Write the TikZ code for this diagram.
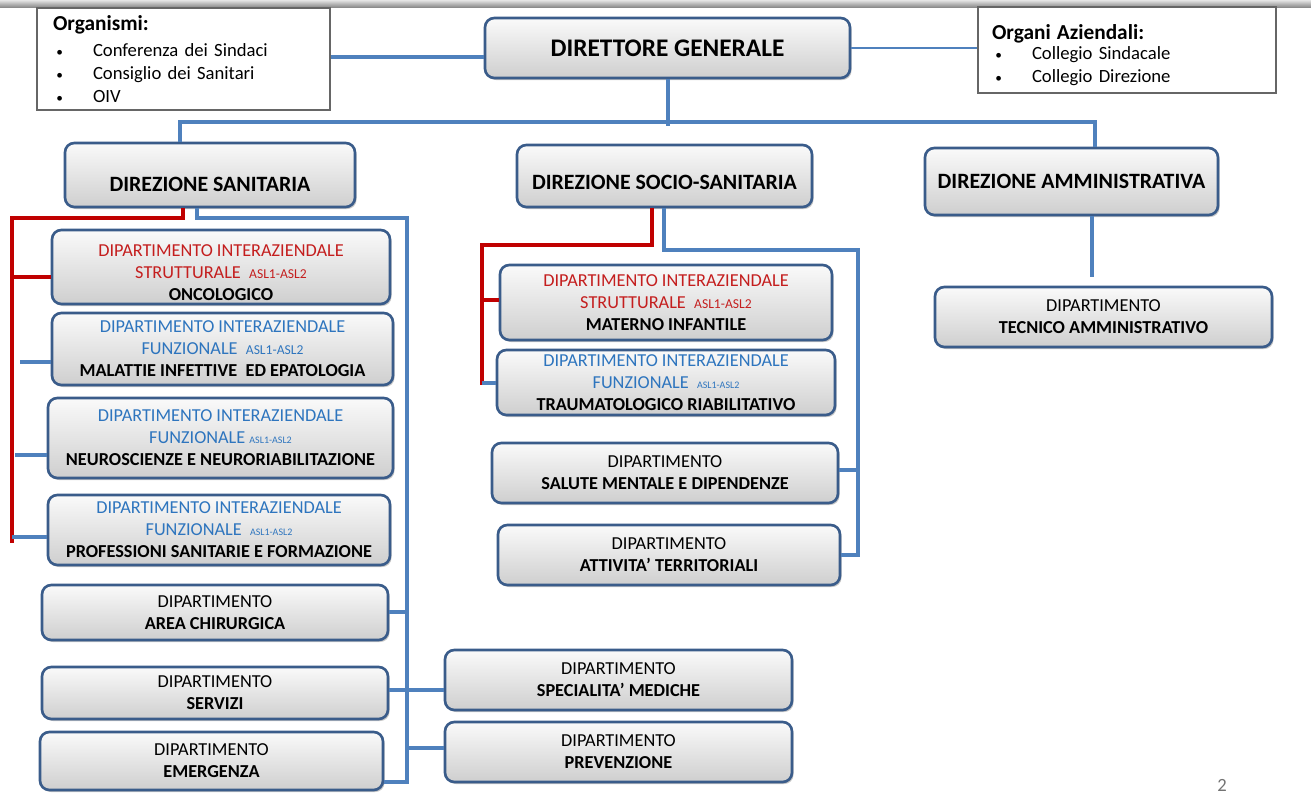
\documentclass[tikz,border=0pt]{standalone}
\usepackage{fontspec}
\setmainfont{Carlito}
\usepackage{tikz}
\usetikzlibrary{shadows}

\definecolor{linkblue}{RGB}{79,129,189}
\definecolor{linkred}{RGB}{192,0,0}
\definecolor{boxedge}{RGB}{58,92,138}
\definecolor{txtred}{RGB}{196,30,30}
\definecolor{txtblue}{RGB}{46,117,190}

\newcommand\redl[1]{\textcolor{txtred}{#1}}
\newcommand\bluel[1]{\textcolor{txtblue}{#1}}
\newcommand\aslbig{{\fontsize{10.2}{10}\selectfont ASL1-ASL2}}
\newcommand\aslsmall{{\fontsize{7.5}{8}\selectfont ASL1-ASL2}}
\newcommand\itm[1]{\hspace*{2.5pt}\makebox[27.5pt][l]{\fontsize{10}{10}\selectfont\textbullet}#1}
\newcommand\hdr[1]{{\fontsize{16}{16}\selectfont\bfseries #1}}

\begin{document}
\begin{tikzpicture}[x=0.75pt, y=-0.75pt,
  wh/.style 2 args={minimum width=#1*0.75pt, minimum height=#2*0.75pt},
  deptbox/.style={draw=boxedge, line width=2pt, rounded corners=7pt,
    top color=black!2, bottom color=black!19,
    drop shadow={shadow xshift=1.2pt, shadow yshift=-1.5pt, opacity=0.45},
    align=center, inner sep=0pt, font=\fontsize{13.7}{16.5}\selectfont},
  dirbox/.style={deptbox, font=\fontsize{16.4}{18}\selectfont\bfseries},
  infobox/.style={draw=black!60, line width=0.8pt, fill=white, align=left,
    font=\fontsize{14}{17.25}\selectfont},
  bline/.style={draw=linkblue, line width=3pt},
  rline/.style={draw=linkred, line width=3.4pt},
]
  \useasboundingbox (0,0) rectangle (1311,796);

  % grey rule on top
  \shade[top color=black!10, bottom color=black!45] (0,0) rectangle (1311,7);

  %% top level
  \node[infobox, wh={293}{102}, inner xsep=12pt, text width=195.75pt] (org) at (183.5,59)
    {\hdr{Organismi:}\\[2.25pt]\itm{Conferenza dei Sindaci}\\\itm{Consiglio dei Sanitari}\\\itm{OIV}};
  \node[infobox, wh={298}{86}, inner xsep=10.5pt, text width=202.5pt] (organi) at (1127,50)
    {\rule{0pt}{19pt}\hdr{Organi Aziendali:}\\[-2.25pt]\itm{Collegio Sindacale}\\\itm{Collegio Direzione}};
  \node[dirbox, wh={365}{60}, font=\fontsize{19}{20}\selectfont\bfseries] (dg) at (667.5,48) {DIRETTORE GENERALE};

  \node[dirbox, wh={290}{64}] (ds) at (210,175) {\raisebox{-7pt}[\height][0pt]{DIREZIONE SANITARIA}};
  \node[dirbox, wh={295}{62}] (dss) at (664.5,176) {\raisebox{-4.5pt}[\height][0pt]{DIREZIONE SOCIO-SANITARIA}};
  \node[dirbox, wh={293}{67}] (da) at (1071.5,181.5) {DIREZIONE AMMINISTRATIVA};

  %% left column
  \node[deptbox, wh={338}{74}] (onco) at (221,267)
    {\rule{0pt}{18pt}\redl{DIPARTIMENTO INTERAZIENDALE}\\\redl{STRUTTURALE\ \ \aslbig}\\\textbf{ONCOLOGICO}};
  \node[deptbox, wh={341}{72}] (malinf) at (222.5,349)
    {\bluel{DIPARTIMENTO INTERAZIENDALE}\\\bluel{FUNZIONALE\ \ \aslbig}\\\textbf{MALATTIE INFETTIVE\ \ ED EPATOLOGIA}};
  \node[deptbox, wh={345}{80}] (neuro) at (220.5,438)
    {\bluel{DIPARTIMENTO INTERAZIENDALE}\\\bluel{FUNZIONALE \aslsmall}\\\textbf{NEUROSCIENZE E NEURORIABILITAZIONE}};
  \node[deptbox, wh={342}{70}] (prof) at (219,530)
    {\bluel{DIPARTIMENTO INTERAZIENDALE}\\\bluel{FUNZIONALE\ \ \aslsmall}\\\textbf{PROFESSIONI SANITARIE E FORMAZIONE}};
  \node[deptbox, wh={346}{55}] (chir) at (215,612.5) {DIPARTIMENTO\\\textbf{AREA CHIRURGICA}};
  \node[deptbox, wh={346}{52}] (serv) at (215,693) {DIPARTIMENTO\\\textbf{SERVIZI}};
  \node[deptbox, wh={343}{58}] (emerg) at (211.5,761) {DIPARTIMENTO\\\textbf{EMERGENZA}};

  %% middle column
  \node[deptbox, wh={332}{75}] (mater) at (666,302.5)
    {\redl{DIPARTIMENTO INTERAZIENDALE}\\\redl{STRUTTURALE\ \ \aslbig}\\\textbf{MATERNO INFANTILE}};
  \node[deptbox, wh={338}{65}] (trauma) at (666,382.5)
    {\bluel{DIPARTIMENTO INTERAZIENDALE}\\\bluel{FUNZIONALE\ \ \aslsmall}\\\textbf{TRAUMATOLOGICO RIABILITATIVO}};
  \node[deptbox, wh={346}{60}] (salmen) at (665,473) {DIPARTIMENTO\\\textbf{SALUTE MENTALE E DIPENDENZE}};
  \node[deptbox, wh={342}{60}] (attiv) at (669,555) {DIPARTIMENTO\\\textbf{ATTIVITA’ TERRITORIALI}};
  \node[deptbox, wh={347}{60}] (specmed) at (618.5,680) {DIPARTIMENTO\\\textbf{SPECIALITA’ MEDICHE}};
  \node[deptbox, wh={347}{60}] (prev) at (618.5,752) {DIPARTIMENTO\\\textbf{PREVENZIONE}};

  %% right column
  \node[deptbox, wh={337}{60}] (dta) at (1103.5,317) {DIPARTIMENTO\\\textbf{TECNICO AMMINISTRATIVO}};

  \node[text=black!55, font=\fontsize{14}{14}\selectfont] (pnum) at (1222,785) {2};

  %% bend points
  \coordinate (busL) at (180,122);
  \coordinate (busR) at (1095,122);
  \coordinate (busC) at (667.5,126);
  \coordinate (daDrop) at (1092,277);
  \coordinate (rl1) at (183,218);  \coordinate (rl2) at (12,218);  \coordinate (rl3) at (12,543);
  \coordinate (rb1) at (12,277);
  \coordinate (bs2) at (20,362);   \coordinate (bs3) at (15,455);  \coordinate (bs4) at (12,537);
  \coordinate (bl1) at (197,218);  \coordinate (bl2) at (407,218); \coordinate (bl3) at (407,782);
  \coordinate (bb5) at (407,612);  \coordinate (bb6) at (407,690); \coordinate (bb7) at (407,748);
  \coordinate (mr1) at (652,245);  \coordinate (mr2) at (482,245); \coordinate (mr3) at (482,385);
  \coordinate (mrb) at (482,300);  \coordinate (mbs) at (482,383);
  \coordinate (mb1) at (664,250);  \coordinate (mb2) at (858,250); \coordinate (mb3) at (858,555);
  \coordinate (mbb) at (858,470);

  %% connectors
  \draw[bline] (org.east |- 0,57) -- (dg.west |- 0,57); %% org-DG
  \draw[draw=linkblue, line width=1.1pt] (dg.east) -- (dg.east -| organi.west); %% DG-organi
  \draw[bline] (dg.south) -- (busC);
  \draw[bline] (busL |- ds.north) -- (busL) -- (busR) -- (busR |- da.north); %% bus
  \draw[bline] (daDrop |- da.south) -- (daDrop); %% DA->DTA

  \draw[rline] (rl1 |- ds.south) -- (rl1) -- (rl2) -- (rl3); %% DS red
  \draw[rline] (rb1) -- (rb1 -| onco.west);
  \draw[bline] (bs2) -- (bs2 -| malinf.west);
  \draw[bline] (bs3) -- (bs3 -| neuro.west);
  \draw[bline] (bs4) -- (bs4 -| prof.west);

  \draw[bline] (bl1 |- ds.south) -- (bl1) -- (bl2) -- (bl3) -- (bl3 -| emerg.east); %% DS blue
  \draw[bline] (bb5) -- (bb5 -| chir.east);
  \draw[bline] (bb6 -| serv.east) -- (bb6 -| specmed.west);
  \draw[bline] (bb7) -- (bb7 -| prev.west);

  \draw[rline] (mr1 |- dss.south) -- (mr1) -- (mr2) -- (mr3); %% DSS red
  \draw[rline] (mrb) -- (mrb -| mater.west);
  \draw[bline] (mbs) -- (mbs -| trauma.west);

  \draw[bline] (mb1 |- dss.south) -- (mb1) -- (mb2) -- (mb3) -- (mb3 -| attiv.east); %% DSS blue
  \draw[bline] (mbb) -- (mbb -| salmen.east);

\end{tikzpicture}
\end{document}
